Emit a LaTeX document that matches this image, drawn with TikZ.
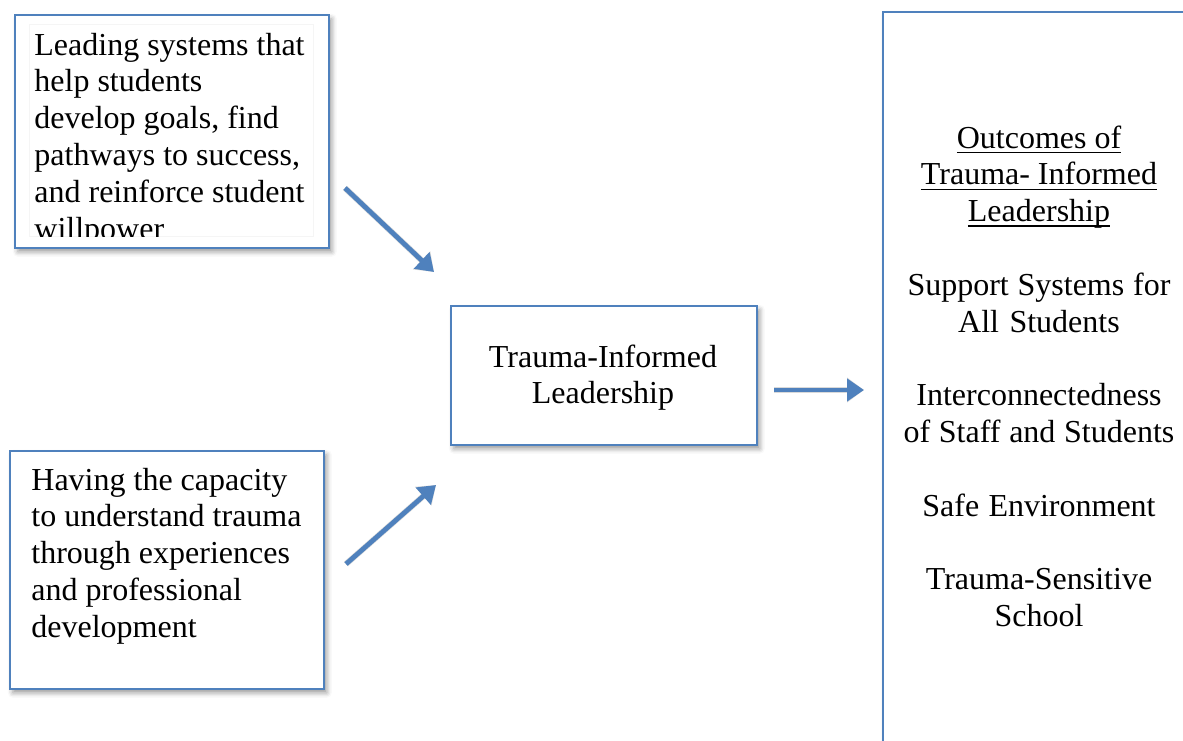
\documentclass[tikz,border=0pt]{standalone}
\usepackage{fontspec}
\setmainfont{Liberation Serif}
\usetikzlibrary{arrows.meta,shadows.blur}
\definecolor{frameblue}{HTML}{4F81BD}
\definecolor{arrowblue}{HTML}{4F81BD}
% underline at a fixed depth below the baseline
\newcommand{\undl}[1]{\leavevmode\setbox0\hbox{#1}\rlap{\rule[-2.6pt]{\wd0}{0.7pt}}\box0}
% normal word spaces inside aligned nodes (align= widens them otherwise)
\newcommand{\ws}{\spaceskip 4pt plus 1pt minus 0.5pt\relax}

\begin{document}
\begin{tikzpicture}[x=0.5pt,y=-0.5pt,
  panel/.style={draw=frameblue, line width=0.8pt, fill=white, rectangle,
    inner sep=0pt, anchor=north west,
    blur shadow={shadow xshift=1.5pt, shadow yshift=-2pt,
      shadow blur radius=2.5pt, shadow opacity=40}},
  bodytext/.style={inner sep=0pt, font=\fontsize{16}{18.4}\selectfont},
  flow/.style={draw=arrowblue, line width=2.4pt,
    -{Triangle[length=8.5pt,width=11pt]}},
  flowshade/.style={draw=black, opacity=0.15, line width=3pt,
    -{Triangle[length=8.5pt,width=12pt]}, shift={(2,5)}}
]
\useasboundingbox (0,0) rectangle (1183,740);

% boxes
\node[panel, minimum width=157pt, minimum height=116.5pt] (goals) at (14,14) {};
\node[panel, minimum width=157pt, minimum height=119pt] (capacity) at (9,450) {};
\node[panel, minimum width=153pt, minimum height=69.5pt] (til) at (450,305) {};
\node[panel, minimum width=158pt, minimum height=380pt] (outcomes) at (882,11) {};

% faint inner text frame of the first box
\draw[black!4, line width=0.4pt] (29,24) rectangle (313,236);

% first box text, cut off at the frame's lower edge
\begin{scope}
  \clip (29,24) rectangle (313,236);
  \node[bodytext, anchor=base west, text width=150pt, align=left] (goalstext) at (34,55)
    {\ws Leading systems that\\help students\\develop goals, find\\pathways to success,\\and reinforce student\\willpower};
\end{scope}

\node[bodytext, anchor=base west, text width=150pt, align=left] (capacitytext) at (31,490)
  {\ws Having the capacity\\to understand trauma\\through experiences\\and professional\\development};

\node[bodytext, anchor=base, text width=150pt, align=center] (tiltext) at (603,367)
  {\ws Trauma-Informed\\Leadership};

\node[bodytext, anchor=base, text width=158pt, align=center] (outcomestext) at (1039,148)
  {\ws\undl{Outcomes of}\\\undl{Trauma- Informed}\\\undl{Leadership}\\[18.4pt]
   Support Systems for\\All Students\\[18.4pt]
   Interconnectedness\\of Staff and Students\\[18.4pt]
   Safe Environment\\[18.4pt]
   Trauma-Sensitive\\School};

% connector end points
\coordinate (g1) at (345,188);
\coordinate (g2) at (434,272);
\coordinate (c1) at (346,564);
\coordinate (c2) at (436,485);
\coordinate (t1) at (774,390);
\coordinate (t2) at (864,390);

% arrow shadows
\draw[flowshade] (g1) -- (g2);
\draw[flowshade] (c1) -- (c2);
\draw[flowshade] (t1) -- (t2);

% arrows
\draw[flow] (g1) -- (g2);
\draw[flow] (c1) -- (c2);
\draw[flow] (t1) -- (t2);
\end{tikzpicture}
\end{document}
